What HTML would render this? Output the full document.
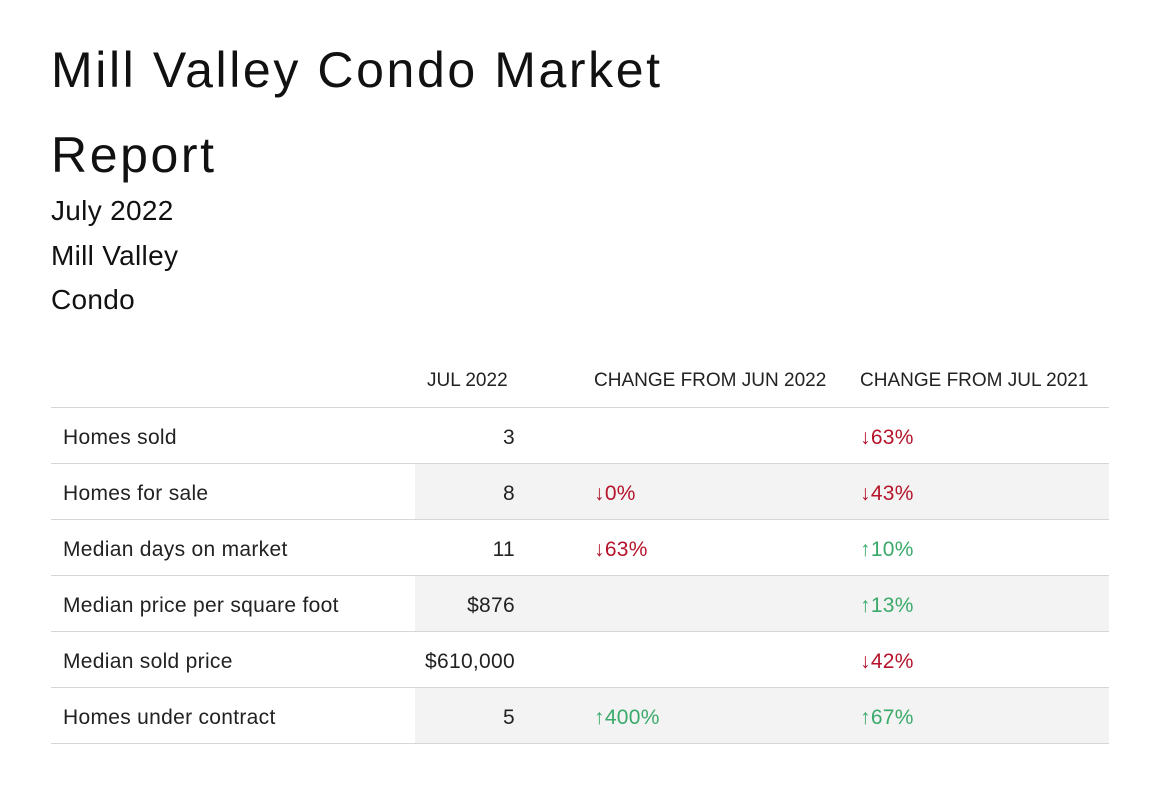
<!DOCTYPE html>
<html><head><meta charset="utf-8"><style>
body{margin:0;width:1161px;height:806px;background:#fff;font-family:"Liberation Sans",sans-serif;color:#111;position:relative;overflow:hidden}
.a{position:absolute;white-space:nowrap}
h1{position:absolute;left:51px;top:28px;margin:0;font-weight:normal;font-size:50px;line-height:85px;letter-spacing:2.6px}
.sub{font-size:28px;letter-spacing:0.3px}
.hd{font-size:19px;color:#222;top:370px}
.row{position:absolute;left:51px;width:1058px;height:55px;border-bottom:1px solid #d6d6d6}
.shade{position:absolute;left:364px;right:0;top:0;bottom:0;background:#f3f3f3}
.c{position:absolute;top:18px;font-size:21px;color:#222;letter-spacing:0.3px;white-space:nowrap}
.dn{color:#b5142b}.up{color:#3aaa6a}
.ar{font-weight:bold}
</style></head><body>
<h1>Mill Valley Condo Market<br>Report</h1>
<div class="a sub" style="left:51px;top:195px">July 2022</div>
<div class="a sub" style="left:51px;top:240px">Mill Valley</div>
<div class="a sub" style="left:51px;top:284px">Condo</div>
<div class="a hd" style="left:427px">JUL 2022</div>
<div class="a hd" style="left:594px">CHANGE FROM JUN 2022</div>
<div class="a hd" style="left:860px">CHANGE FROM JUL 2021</div>
<div class="a" style="left:51px;top:407px;width:1058px;border-top:1px solid #d6d6d6"></div>
<div id="tbl"></div>
<script>
const labels=["Homes sold","Homes for sale","Median days on market","Median price per square foot","Median sold price","Homes under contract"];
const values=["3","8","11","$876","$610,000","5"];
const chgMonth=[null,0,-63,null,null,400];
const chgYear=[-63,-43,10,13,-42,67];
const tbl=document.getElementById('tbl');
function chg(v){if(v===null)return '';const down=v<=0;return '<span class="'+(down?'dn':'up')+'"><span class="ar">'+(down?'↓':'↑')+'</span>'+Math.abs(v)+'%</span>';}
labels.forEach((l,i)=>{
const r=document.createElement('div');r.className='row';r.style.top=(408+i*56)+'px';


r.innerHTML=(i%2?'<div class="shade"></div>':'')+
'<div class="c" style="left:12px">'+l+'</div>'+
'<div class="c" style="right:594px">'+values[i]+'</div>'+
'<div class="c" style="left:543px">'+chg(chgMonth[i])+'</div>'+
'<div class="c" style="left:809px">'+chg(chgYear[i])+'</div>';
tbl.appendChild(r);
});
</script>
</body></html>
